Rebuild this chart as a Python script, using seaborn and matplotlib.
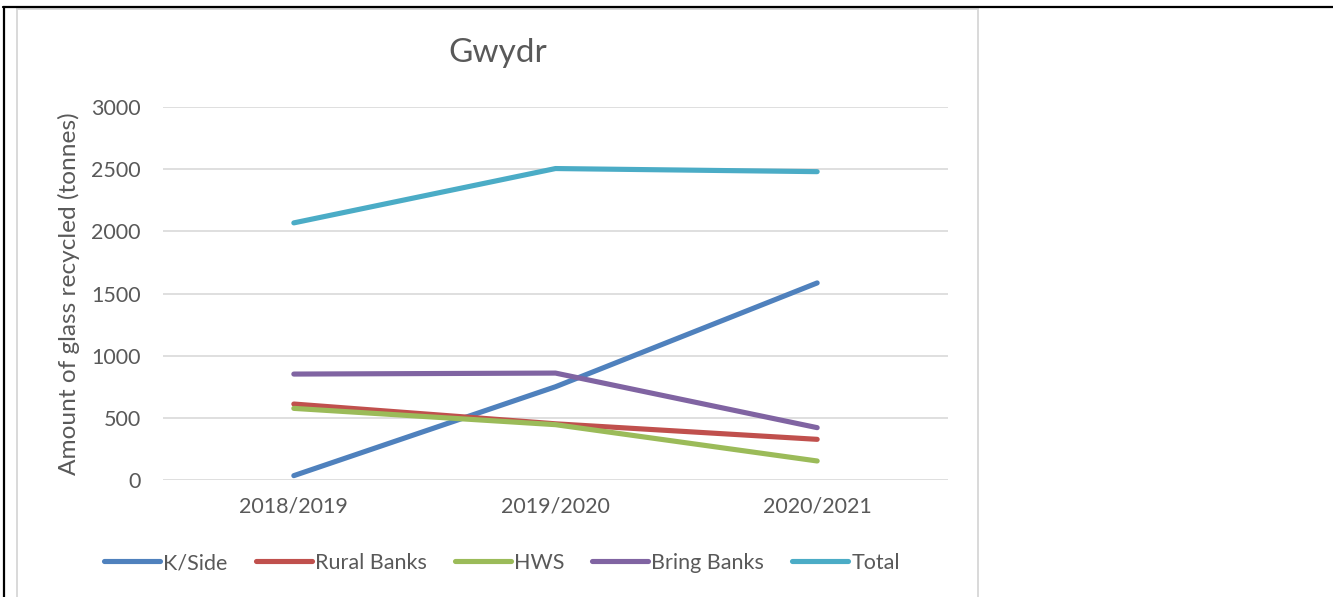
import matplotlib
matplotlib.use("Agg")
import matplotlib.pyplot as plt
from matplotlib.lines import Line2D
from matplotlib.patches import Rectangle
import seaborn as sns
import pandas as pd

# Glass recycled in Gwydr, by collection route
years = ["2018/2019", "2019/2020", "2020/2021"]
kerbside = [35, 750, 1585]
rural_banks = [611, 452, 327]
hws = [576, 445, 153]
bring_banks = [852, 860, 421]
total = [2068, 2505, 2480]

series_names = ["K/Side", "Rural Banks", "HWS", "Bring Banks", "Total"]
series_values = [kerbside, rural_banks, hws, bring_banks, total]
colors = ["#4F81BD", "#C0504D", "#9BBB59", "#8064A2", "#4BACC6"]

rows = []
for name, vals in zip(series_names, series_values):
    for yr, v in zip(years, vals):
        rows.append({"Year": yr, "Series": name, "Tonnes": v})
df = pd.DataFrame(rows)

sns.set_theme(style="white")
plt.rcParams["font.family"] = ["Lato", "DejaVu Sans"]
text_color = "#595959"

fig = plt.figure(figsize=(13.33, 5.97), dpi=100)
W, H = 1333, 597

# page frame lines and the chart's outer border
fig.add_artist(Line2D([3 / W, 1.0], [1 - 7 / H, 1 - 7 / H], color="black", lw=1.6))
fig.add_artist(Line2D([4 / W, 4 / W], [0, 1 - 7 / H], color="black", lw=1.6))
border = Rectangle((17 / W, -0.05), (978 - 17) / W, (1 - 9 / H) + 0.05,
                   transform=fig.transFigure, facecolor="white",
                   edgecolor="#D9D9D9", lw=1.4)
border.set_zorder(-5)
fig.add_artist(border)

ax = fig.add_axes([163 / W, 1 - 480 / H, (948 - 163) / W, (480 - 107) / H])
ax.set_zorder(2)
ax.set_facecolor("none")

sns.lineplot(data=df, x="Year", y="Tonnes", hue="Series", hue_order=series_names,
             palette=colors, sort=False, linewidth=3.7, ax=ax, legend=False,
             solid_capstyle="round", clip_on=False, zorder=3)

ax.set_xlim(-0.5, 2.5)
ax.set_ylim(0, 3000)
ax.set_yticks(range(0, 3001, 500))
ax.yaxis.grid(True, color="#D9D9D9", lw=1.2, zorder=0)
ax.set_axisbelow(True)
for s in ax.spines.values():
    s.set_visible(False)
ax.tick_params(axis="both", length=0, labelsize=15.5, labelcolor=text_color)
ax.tick_params(axis="x", pad=12)
ax.tick_params(axis="y", pad=16)
ax.set_xlabel("")
ax.set_ylabel("Amount of glass recycled (tonnes)", fontsize=17.6, color=text_color, labelpad=8)

# title centred over the whole chart area
fig.text(497.5 / W, 1 - 53 / H, "Gwydr", fontsize=24, color=text_color,
         ha="center", va="center")

handles = [Line2D([0], [0], color=c, lw=3.7, solid_capstyle="round") for c in colors]
fig.legend(handles, series_names, loc="center", bbox_to_anchor=(502 / W, 1 - 563 / H),
           ncol=5, frameon=False, fontsize=15.5, labelcolor=text_color,
           handlelength=2.6, handletextpad=0.15, columnspacing=1.3)

fig.savefig("out.png", dpi=100)
